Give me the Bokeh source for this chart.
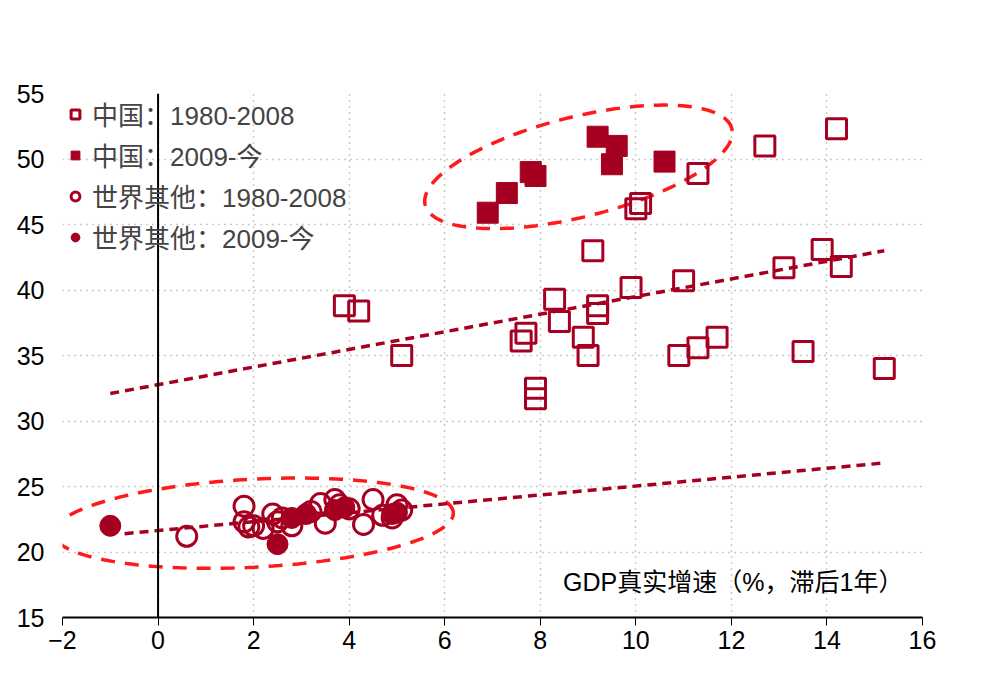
import numpy as np
from bokeh.plotting import figure
from bokeh.models import Span, Range1d, Legend, LegendItem, Label
from bokeh.embed import file_html
from bokeh.resources import INLINE

# China 1980-2008
cn_old_x = [3.9, 4.2, 5.1, 7.6, 7.7, 7.9, 7.9, 8.3, 8.4, 8.9, 9.0, 9.1, 9.2, 9.2, 9.9, 10.0, 10.1,
            10.9, 11.0, 11.3, 11.3, 11.7, 12.7, 13.1, 13.5, 13.9, 14.2, 14.3, 15.2]
cn_old_y = [38.8, 38.4, 35.0, 36.1, 36.7, 32.5, 31.7, 39.3, 37.6, 36.4, 35.0, 43.0, 38.8, 38.2, 40.2, 46.2, 46.6,
            35.0, 40.7, 35.6, 48.9, 36.4, 51.0, 41.7, 35.3, 43.1, 52.3, 41.8, 34.0]
# China 2009-
cn_new_x = [6.9, 7.3, 7.8, 7.9, 9.2, 9.5, 9.6, 10.6]
cn_new_y = [45.9, 47.4, 49.0, 48.7, 51.7, 49.6, 51.0, 49.8]
# Rest of world 1980-2008
w_old_x = [0.6, 1.8, 1.8, 1.9, 2.0, 2.2, 2.4, 2.5, 2.6, 2.8, 3.2, 3.4, 3.5, 3.7, 3.8, 4.0, 4.3, 4.5, 4.7, 5.0, 5.1, 4.9]
w_old_y = [21.2, 23.5, 22.3, 21.9, 22.0, 21.8, 22.9, 22.3, 22.6, 22.0, 23.1, 23.7, 22.2, 24.0, 23.6, 23.3, 22.1, 24.0,
           22.8, 23.6, 23.2, 22.6]
# Rest of world 2009-
w_new_x = [-1.0, 2.5, 2.8, 3.1, 3.7, 3.9, 4.9, 5.0]
w_new_y = [22.0, 20.6, 22.6, 22.9, 23.2, 23.4, 22.9, 23.0]
# trend lines
cn_trend_x = [-1.0, 15.2]
cn_trend_y = [32.1, 43.0]
w_trend_x = [-0.7, 15.2]
w_trend_y = [21.4, 26.8]

x_ticks = list(range(-2, 17, 2))
y_ticks = list(range(15, 56, 5))

RED = "#A50021"
FONT = "Liberation Sans, Noto Sans CJK SC"

p = figure(frame_width=860, frame_height=524, output_backend="svg", toolbar_location=None,
           x_range=Range1d(-2, 16), y_range=Range1d(15, 55),
           min_border_left=62, min_border_top=93, min_border_right=20, min_border_bottom=40)
p.outline_line_color = None
p.xaxis.ticker = x_ticks
p.yaxis.ticker = y_ticks
for ax in (p.xaxis, p.yaxis):
    ax.major_label_text_font = FONT
    ax.major_label_text_font_size = "25px"
    ax.major_label_text_color = "black"
    ax.minor_tick_line_color = None
p.xaxis.axis_line_color = "black"
p.xaxis.axis_line_width = 2
p.xaxis.major_tick_line_color = "black"
p.xaxis.major_tick_in = 0
p.xaxis.major_tick_out = 8
p.yaxis.axis_line_color = None
p.yaxis.major_tick_line_color = None
p.yaxis.major_label_standoff = 12
p.grid.grid_line_color = "#999999"
p.grid.grid_line_dash = "1 5"
p.grid.grid_line_width = 1.5
p.add_layout(Span(location=0, dimension="height", line_color="black", line_width=2))

# ellipses drawn in screen space (px per unit)
sx, sy = 860 / 18, 524 / 40
def ellipse(cx, cy, a, b, ang):
    t = np.linspace(0, 2 * np.pi, 200)
    r = np.radians(ang)
    px = a * np.cos(t) * np.cos(r) - b * np.sin(t) * np.sin(r)
    py = a * np.cos(t) * np.sin(r) + b * np.sin(t) * np.cos(r)
    return cx + px / sx, cy + py / sy

ex, ey = ellipse(8.8, 49.4, 158, 50, 14)
p.line(ex, ey, line_color="#FF1A1A", line_width=3.5, line_dash="14 10")
ex, ey = ellipse(2.0, 22.2, 200, 44, 3)
p.line(ex, ey, line_color="#FF1A1A", line_width=3.5, line_dash="14 10")

p.line(cn_trend_x, cn_trend_y, line_color=RED, line_width=3.5, line_dash="9 6")
p.line(w_trend_x, w_trend_y, line_color=RED, line_width=3.5, line_dash="9 6")

r1 = p.scatter(cn_old_x, cn_old_y, marker="square", size=20, fill_color="white", fill_alpha=0,
               line_color=RED, line_width=3)
r2 = p.scatter(cn_new_x, cn_new_y, marker="square", size=21, fill_color=RED, line_color=RED)
r3 = p.scatter(w_old_x, w_old_y, marker="circle", size=20, fill_color="white", fill_alpha=0,
               line_color=RED, line_width=3)
r4 = p.scatter(w_new_x, w_new_y, marker="circle", size=21, fill_color=RED, line_color=RED)

leg = Legend(items=[LegendItem(label="中国：1980-2008", renderers=[r1]),
                    LegendItem(label="中国：2009-今", renderers=[r2]),
                    LegendItem(label="世界其他：1980-2008", renderers=[r3]),
                    LegendItem(label="世界其他：2009-今", renderers=[r4])],
             location="top_left", background_fill_alpha=0, border_line_color=None,
             label_text_font=FONT, label_text_font_size="26px", spacing=4,
             glyph_width=22, glyph_height=22, margin=2, padding=6, label_standoff=6)
p.add_layout(leg)

p.add_layout(Label(x=-2, y=55, x_offset=-55, y_offset=50, text="储蓄占GDP比重（%）",
                   text_font=FONT, text_font_size="25px", text_color="black"))
p.add_layout(Label(x=15.6, y=15, y_offset=22, text="GDP真实增速（%，滞后1年）", text_align="right",
                   text_font=FONT, text_font_size="25px", text_color="black"))

open("out.html", "w").write(file_html(p, INLINE))
